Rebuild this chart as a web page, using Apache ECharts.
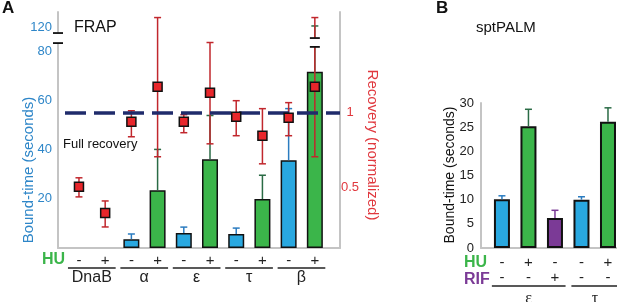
<!DOCTYPE html>
<html>
<head>
<meta charset="utf-8">
<script src="https://cdn.jsdelivr.net/npm/echarts@6/dist/echarts.min.js"></script>
<style>
  html, body { margin: 0; padding: 0; background: #fff; }
  #chart { width: 617px; height: 302px; }
</style>
</head>
<body>
<div id="chart"></div>
<script>
// ---- panel A: FRAP ----
const huA = ['-', '+', '-', '+', '-', '+', '-', '+', '-', '+'];
const groupsA = ['DnaB', 'α', 'ε', 'τ', 'β'];
const groupSpanA = [[0, 1], [2, 3], [4, 5], [6, 7], [8, 9]];
const boundA = [null, null, 3.6, 23.5, 6.1, 36.1, 5.7, 19.9, 35.7, 71.7];
const boundErrA = [null, null, 5.7, 40.1, 8.5, 53.9, 8.1, 29.6, 56.7, 123];
const recovery = [0.507, 0.333, 0.94, 1.173, 0.94, 1.133, 0.973, 0.847, 0.967, 1.173];
const recLow = [0.44, 0.24, 0.84, 0.707, 0.867, 0.793, 0.847, 0.66, 0.847, 0.707];
const recHigh = [0.567, 0.413, 1.013, 1.633, 0.987, 1.467, 1.08, 1.027, 1.067, 1.633];
const ticksA = [20, 40, 60, 80, 120];
const ticksRec = [0.5, 1];
// axis break marks [x, low, high] in real seconds
const breaksA = [[-0.8, 94, 111], [9, 87.5, 102.5]];

// ---- panel B: sptPALM ----
const huB = ['-', '+', '-', '-', '+'];
const rifB = ['-', '-', '+', '-', '-'];
const groupsB = ['ε', 'τ'];
const groupSpanB = [[0, 2], [3, 4]];
const boundB = [10.1, 25.2, 6.2, 10, 26.1];
const boundErrB = [10.8, 28.7, 7.8, 10.6, 29];
const ticksB = [0, 5, 10, 15, 20, 25, 30];

const BLUE = '#29a8e0', GREEN = '#3bb54a', PURPLE = '#7b3a96';
const BLUE_ERR = '#2b7cc0', GREEN_ERR = '#2a6b45', PURPLE_ERR = '#7b3a96', RED_ERR = '#c1272d';
const FONT = 'Liberation Sans, Arial, sans-serif';
const SERIF = 'Liberation Serif, Times New Roman, serif';

// broken axis above 80 s
function dispA(v) { return v <= 80 ? v : 80 + (v - 80) * 0.24; }
function realA(v) { return v <= 80 ? v : 80 + (v - 80) / 0.24; }

function errRender(capLow) {
  return function (params, api) {
    const x = api.value(0);
    const lo = api.coord([x, api.value(1)]);
    const hi = api.coord([x, api.value(2)]);
    const c = api.visual('color');
    const w = 3.5;
    const st = { stroke: c, lineWidth: 1.5 };
    const ch = [
      { type: 'line', shape: { x1: lo[0], y1: lo[1], x2: hi[0], y2: hi[1] }, style: st },
      { type: 'line', shape: { x1: hi[0] - w, y1: hi[1], x2: hi[0] + w, y2: hi[1] }, style: st }
    ];
    if (capLow) ch.push({ type: 'line', shape: { x1: lo[0] - w, y1: lo[1], x2: lo[0] + w, y2: lo[1] }, style: st });
    return { type: 'group', children: ch };
  };
}

function groupRender(names, lineGap, textGap, fontFamily, padL, padR) {
  return function (params, api) {
    const a = api.coord([api.value(0) - padL, 0]);
    const b = api.coord([api.value(1) + padR, 0]);
    const y = a[1] + lineGap;
    return {
      type: 'group',
      children: [
        { type: 'line', shape: { x1: a[0], y1: y, x2: b[0], y2: y }, style: { stroke: '#222', lineWidth: 1.5 } },
        { type: 'text', x: (a[0] + b[0]) / 2, y: a[1] + textGap,
          style: { text: names[params.dataIndex], fill: '#222', font: '16px ' + fontFamily, align: 'center', verticalAlign: 'middle' } }
      ]
    };
  };
}

const barsA = boundA.map((v, i) => v == null ? null : {
  value: [i, dispA(v)], itemStyle: { color: huA[i] === '+' ? GREEN : BLUE }
}).filter(d => d);
const errA = boundA.map((v, i) => v == null ? null : {
  value: [i, dispA(v), dispA(boundErrA[i])], itemStyle: { color: huA[i] === '+' ? GREEN_ERR : BLUE_ERR }
}).filter(d => d);
const barsB = boundB.map((v, i) => ({
  value: [i, v], itemStyle: { color: huB[i] === '+' ? GREEN : (rifB[i] === '+' ? PURPLE : BLUE) }
}));
const errB = boundB.map((v, i) => ({
  value: [i, v, boundErrB[i]], itemStyle: { color: huB[i] === '+' ? GREEN_ERR : (rifB[i] === '+' ? PURPLE_ERR : BLUE_ERR) }
}));

const chart = echarts.init(document.getElementById('chart'), null, { renderer: 'canvas' });
const axisLineGray = { show: true, onZero: false, lineStyle: { color: '#c4c4c4', width: 2 } };

chart.setOption({
  animation: false,
  grid: [
    { left: 58, top: 12, width: 282, height: 236 },
    { left: 481, top: 103, width: 136, height: 145 }
  ],
  xAxis: [
    { type: 'value', gridIndex: 0, position: 'bottom', min: -0.8, max: 9.96, axisLine: axisLineGray, axisTick: { show: false }, splitLine: { show: false },
      axisLabel: { customValues: huA.map((s, i) => i), formatter: v => huA[Math.round(v)], margin: 5, color: '#222', fontSize: 15, fontFamily: FONT } },
    { type: 'value', gridIndex: 1, position: 'bottom', min: -0.79, max: 4.34, axisLine: axisLineGray, axisTick: { show: false }, splitLine: { show: false },
      axisLabel: { customValues: huB.map((s, i) => i), formatter: v => huB[Math.round(v)], margin: 7, color: '#222', fontSize: 15, fontFamily: FONT } },
    { type: 'value', gridIndex: 1, position: 'bottom', min: -0.79, max: 4.34, offset: 15, axisLine: { show: false, onZero: false }, axisTick: { show: false }, splitLine: { show: false },
      axisLabel: { customValues: rifB.map((s, i) => i), formatter: v => rifB[Math.round(v)], margin: 7, color: '#222', fontSize: 15, fontFamily: FONT } }
  ],
  yAxis: [
    { type: 'value', gridIndex: 0, position: 'left', min: 0, max: 96, axisLine: axisLineGray, axisTick: { show: false }, splitLine: { show: false },
      axisLabel: { customValues: ticksA.map(dispA), formatter: v => String(Math.round(realA(v))), margin: 6, color: '#2e86c8', fontSize: 13, fontFamily: FONT } },
    { type: 'value', gridIndex: 0, position: 'right', min: 0.1, max: 1.67, axisLine: axisLineGray, axisTick: { show: false }, splitLine: { show: false },
      axisLabel: { customValues: ticksRec, formatter: v => String(v), margin: 10, align: 'center', color: '#e0383e', fontSize: 13, fontFamily: FONT } },
    { type: 'value', gridIndex: 1, position: 'left', min: 0, max: 30, interval: 5, axisLine: axisLineGray, axisTick: { show: false }, splitLine: { show: false },
      axisLabel: { customValues: ticksB, margin: 7, color: '#222', fontSize: 13, fontFamily: FONT } }
  ],
  series: [
    { type: 'line', xAxisIndex: 0, yAxisIndex: 1, data: [], z: 1,
      markLine: { silent: true, symbol: 'none', label: { show: false }, data: [{ yAxis: 1 }],
        lineStyle: { color: '#1f2b6b', width: 3.5, type: [21, 8], dashOffset: 22 } } },
    { type: 'bar', xAxisIndex: 0, yAxisIndex: 0, data: barsA, barWidth: 16, z: 2,
      itemStyle: { borderColor: '#111', borderWidth: 1.5 } },
    { type: 'custom', xAxisIndex: 0, yAxisIndex: 0, data: errA, renderItem: errRender(false), z: 3 },
    { type: 'custom', xAxisIndex: 0, yAxisIndex: 1, z: 4,
      data: recovery.map((v, i) => ({ value: [i, recLow[i], recHigh[i]], itemStyle: { color: RED_ERR } })),
      renderItem: errRender(true) },
    { type: 'scatter', xAxisIndex: 0, yAxisIndex: 1, z: 5, symbol: 'rect', symbolSize: 9,
      data: recovery.map((v, i) => [i, v]),
      itemStyle: { color: '#e8262b', borderColor: '#111', borderWidth: 1.5, opacity: 1 } },
    { type: 'custom', xAxisIndex: 0, yAxisIndex: 0, z: 6, clip: false,
      data: breaksA.map(b => [b[0], dispA(b[1]), dispA(b[2])]),
      renderItem: function (params, api) {
        const lo = api.coord([api.value(0), api.value(1)]);
        const hi = api.coord([api.value(0), api.value(2)]);
        const w = 5;
        return { type: 'group', children: [
          { type: 'rect', shape: { x: lo[0] - 2, y: hi[1], width: 4, height: lo[1] - hi[1] }, style: { fill: '#fff' } },
          { type: 'line', shape: { x1: lo[0] - w, y1: lo[1], x2: lo[0] + w, y2: lo[1] }, style: { stroke: '#111', lineWidth: 1.8 } },
          { type: 'line', shape: { x1: hi[0] - w, y1: hi[1], x2: hi[0] + w, y2: hi[1] }, style: { stroke: '#111', lineWidth: 1.8 } }
        ] };
      } },
    { type: 'custom', xAxisIndex: 0, yAxisIndex: 0, clip: false, silent: true,
      data: groupSpanA, renderItem: groupRender(groupsA, 20, 30, FONT, 0.42, 0.4) },
    { type: 'bar', xAxisIndex: 1, yAxisIndex: 2, data: barsB, barWidth: 16, z: 2,
      itemStyle: { borderColor: '#111', borderWidth: 2 } },
    { type: 'custom', xAxisIndex: 1, yAxisIndex: 2, data: errB, renderItem: errRender(false), z: 3 },
    { type: 'custom', xAxisIndex: 1, yAxisIndex: 2, clip: false, silent: true,
      data: groupSpanB, renderItem: groupRender(groupsB, 38, 51, SERIF, 0.38, 0.4) }
  ],
  graphic: [
    { type: 'text', left: 2, top: 0, style: { text: 'A', font: 'bold 17px ' + FONT, fill: '#111' } },
    { type: 'text', left: 436, top: 0, style: { text: 'B', font: 'bold 17px ' + FONT, fill: '#111' } },
    { type: 'text', x: 74, y: 28, style: { text: 'FRAP', font: '16px ' + FONT, fill: '#111', verticalAlign: 'middle' } },
    { type: 'text', x: 476, y: 28, style: { text: 'sptPALM', font: '15px ' + FONT, fill: '#111', verticalAlign: 'middle' } },
    { type: 'text', x: 63, y: 144, style: { text: 'Full recovery', font: '13px ' + FONT, fill: '#111', verticalAlign: 'middle' } },
    { type: 'text', x: 29, y: 170, rotation: Math.PI / 2,
      style: { text: 'Bound-time (seconds)', font: '15px ' + FONT, fill: '#2e86c8', align: 'center', verticalAlign: 'middle' } },
    { type: 'text', x: 372, y: 145, rotation: -Math.PI / 2,
      style: { text: 'Recovery (normalized)', font: '15px ' + FONT, fill: '#e0383e', align: 'center', verticalAlign: 'middle' } },
    { type: 'text', x: 450, y: 175, rotation: Math.PI / 2,
      style: { text: 'Bound-time (seconds)', font: '14px ' + FONT, fill: '#111', align: 'center', verticalAlign: 'middle' } },
    { type: 'text', x: 42, y: 260, style: { text: 'HU', font: 'bold 16px ' + FONT, fill: GREEN, verticalAlign: 'middle' } },
    { type: 'text', x: 464, y: 263, style: { text: 'HU', font: 'bold 16px ' + FONT, fill: GREEN, verticalAlign: 'middle' } },
    { type: 'text', x: 464, y: 280, style: { text: 'RIF', font: 'bold 16px ' + FONT, fill: PURPLE, verticalAlign: 'middle' } }
  ]
});
</script>
</body>
</html>
